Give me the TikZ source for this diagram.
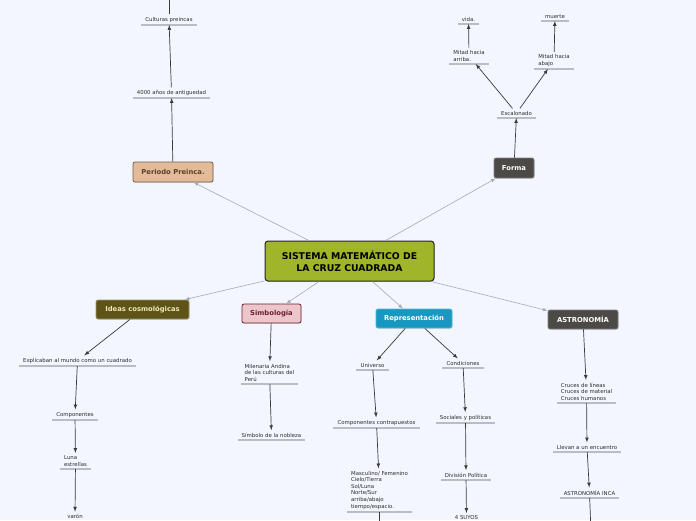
\documentclass[tikz,border=0pt]{standalone}
\usepackage{fontspec}
\setmainfont{DejaVu Sans}
\usetikzlibrary{arrows,shadows}
\definecolor{bgblue}{RGB}{243,246,254}
\definecolor{olivegreen}{RGB}{160,181,42}
\definecolor{tan}{RGB}{228,187,153}
\definecolor{tanline}{RGB}{110,92,76}
\definecolor{tantext}{RGB}{92,64,44}
\definecolor{darkgrey}{RGB}{76,74,71}
\definecolor{darkolive}{RGB}{94,84,24}
\definecolor{paleyellow}{RGB}{238,230,180}
\definecolor{pink}{RGB}{236,198,203}
\definecolor{wine}{RGB}{110,30,48}
\definecolor{cyanblue}{RGB}{24,152,192}
\definecolor{uline}{RGB}{185,188,198}
\definecolor{lightlink}{RGB}{168,170,178}
\definecolor{darklink}{RGB}{58,58,58}
\definecolor{txt}{RGB}{45,45,45}

\begin{document}
\begin{tikzpicture}[x=1pt,y=-1pt]

\tikzset{box/.style = {shape=rectangle,rounded corners=2pt,draw,line width=0.8pt,inner sep=0pt,
  font=\fontsize{6.8}{8}\selectfont\bfseries,drop shadow={opacity=0.2,shadow xshift=0.6pt,shadow yshift=-0.8pt}}}
\tikzset{underl/.style = {draw=uline,line width=1.1pt}}
\tikzset{topic/.style = {anchor=south,align=left,font=\fontsize{5.4}{6.6}\selectfont,text=txt,
  inner xsep=4pt,inner ysep=2.5pt,
  append after command={(\tikzlastnode.south west) edge[underl] (\tikzlastnode.south east)}}}
\tikzset{branch/.style = {draw=lightlink,line width=0.6pt,-latex}}
\tikzset{sub/.style = {draw=darklink,line width=0.7pt,-latex}}

\fill[bgblue] (0,0) rectangle (696,520);
\clip (0,0) rectangle (696,520);

% main topics
\node[box,fill=olivegreen,draw=black!85,line width=1pt,rounded corners=3pt,minimum width=169pt,minimum height=40pt,
  align=center,font=\fontsize{9.3}{12}\selectfont\bfseries] (main) at (349.5,261) {SISTEMA MATEMÁTICO DE\\LA CRUZ CUADRADA};
\node[box,fill=tan,draw=tanline,text=tantext,minimum width=80pt,minimum height=20pt] (pre) at (173,172) {Periodo Preinca.};
\node[box,fill=darkgrey,draw=darkgrey!70,text=white,minimum width=40pt,minimum height=20pt] (forma) at (514,168) {Forma};
\node[box,fill=darkolive,draw=darkolive!60,text=paleyellow,minimum width=93pt,minimum height=19pt] (ideas) at (142.5,309.5) {Ideas cosmológicas};
\node[box,fill=pink,draw=wine,text=wine,minimum width=59pt,minimum height=19pt] (simb) at (271.5,313.5) {Simbología};
\node[box,fill=cyanblue,draw=cyanblue!70,text=white,minimum width=76pt,minimum height=19pt] (repr) at (414,318.5) {Representación};
\node[box,fill=darkgrey,draw=darkgrey!70,text=white,minimum width=70pt,minimum height=19pt] (astro) at (583,319.5) {ASTRONOMÍA};

% subtopics
\node[topic] (anos) at (171.5,98) {4000 años de antiguedad};
\node[topic] (cult) at (169,25) {Culturas preincas};
\coordinate (cultup) at (169,-30);

\node[topic] (escal) at (516.5,118) {Escalonado};
\node[topic] (arriba) at (469,64) {Mitad hacia\\arriba.};
\node[topic] (abajo) at (554,69) {Mitad hacia\\abajo};
\node[topic] (vida) at (468.5,24) {vida.};
\node[topic] (muerte) at (555,21) {muerte};

\node[topic] (expl) at (77.5,366) {Explicaban al mundo como un cuadrado};
\node[topic] (comp) at (75,420) {Componentes};
\node[topic] (luna) at (75.5,469) {Luna\\estrellas};
\node[topic] (varon) at (75,521.5) {varón};

\node[topic] (milen) at (269.5,384) {Milenaria Andina\\de las culturas del\\Perú};
\node[topic] (nobl) at (271.5,440) {Símbolo de la nobleza};

\node[topic] (univ) at (372.5,370) {Universo};
\node[topic] (contra) at (376.5,428) {Componentes contrapuestos};
\node[topic] (masc) at (379.5,512) {Masculino/ Femenino\\Cielo/Tierra\\Sol/Luna\\Norte/Sur\\arriba/abajo\\tiempo/espacio.};
\coordinate (mascdown) at (379.5,560);
\node[topic] (cond) at (463,368) {Condiciones};
\node[topic] (socp) at (465.5,423) {Sociales y políticas};
\node[topic] (divp) at (466,480) {División Política};
\node[topic] (suyos) at (466.5,522.5) {4 SUYOS};

\node[topic] (cruces) at (586.5,403) {Cruces de líneas\\Cruces de material\\Cruces humanos};
\node[topic] (llevan) at (587,452) {Llevan a un encuentro};
\node[topic] (ainca) at (589.5,498) {ASTRONOMÍA INCA};
\coordinate (aincadown) at (592,560);

% edges
\draw[branch] (main) to (pre);
\draw[branch] (main) to (forma);
\draw[branch] (main) to (ideas);
\draw[branch] (main) to (simb);
\draw[branch] (main) to (repr);
\draw[branch] (main) to (astro);

\draw[sub] (pre) to (anos);
\draw[sub] (anos) to (cult);
\draw[sub] (cult) to (cultup);

\draw[sub] (forma) to (escal);
\draw[sub] (escal) to (arriba);
\draw[sub] (escal) to (abajo);
\draw[sub] (arriba) to (vida);
\draw[sub] (abajo) to (muerte);

\draw[sub] (ideas) to (expl);
\draw[sub] (expl) to (comp);
\draw[sub] (comp) to (luna);
\draw[sub] (luna) to (varon);

\draw[sub] (simb) to (milen);
\draw[sub] (milen) to (nobl);

\draw[sub] (repr) to (univ);
\draw[sub] (univ) to (contra);
\draw[sub] (contra) to (masc);
\draw[sub] (masc) to (mascdown);
\draw[sub] (repr) to (cond);
\draw[sub] (cond) to (socp);
\draw[sub] (socp) to (divp);
\draw[sub] (divp) to (suyos);

\draw[sub] (astro) to (cruces);
\draw[sub] (cruces) to (llevan);
\draw[sub] (llevan) to (ainca);
\draw[sub] (ainca) to (aincadown);
\end{tikzpicture}
\end{document}
